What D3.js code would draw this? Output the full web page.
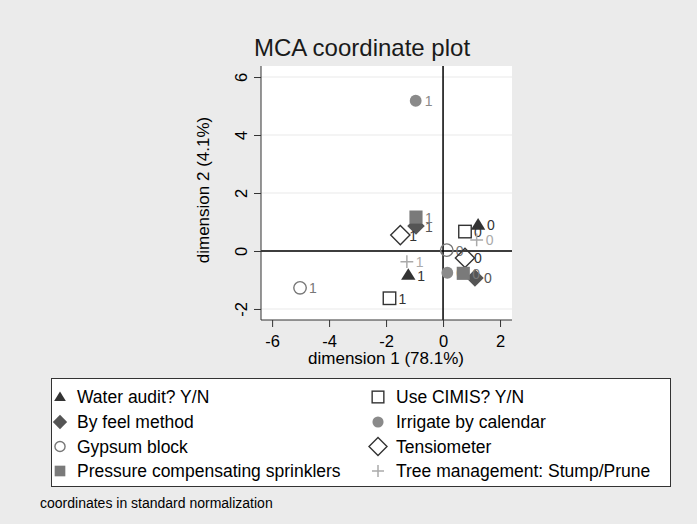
<!DOCTYPE html>
<html><head><meta charset="utf-8">
<script src="https://cdn.jsdelivr.net/npm/d3@7"></script>
<style>body{margin:0;background:#ebebeb;} svg{display:block;font-family:"Liberation Sans",Arial,sans-serif;}</style>
</head><body>
<svg id="c" width="697" height="524"></svg>
<script>
const xTicks = [-6, -4, -2, 0, 2];
const yTicks = [-2, 0, 2, 4, 6];
const seriesNames = ["Water audit? Y/N","Use CIMIS? Y/N","By feel method","Irrigate by calendar","Gypsum block","Tensiometer","Pressure compensating sprinklers","Tree management: Stump/Prune"];
const seriesShapes = ["triangle","squareHollow","diamond","circle","circleHollow","diamondHollow","square","plus"];
const seriesColors = ["#333333","#333333","#555555","#8a8a8a","#777777","#333333","#7a7a7a","#aaaaaa"];
// category coordinates: [label, dim1, dim2]
const waterAudit = [["0",1.23,0.90],["1",-1.22,-0.83]];
const useCimis = [["0",0.77,0.67],["1",-1.88,-1.63]];
const byFeel = [["0",1.12,-0.93],["1",-0.95,0.86]];
const irrigateCalendar = [["0",0.15,-0.75],["1",-0.96,5.18]];
const gypsum = [["0",0.13,0.03],["1",-5.02,-1.27]];
const tensiometer = [["0",0.77,-0.24],["1",-1.50,0.55]];
const pressureComp = [["0",0.71,-0.77],["1",-0.95,1.17]];
const treeMgmt = [["0",1.18,0.38],["1",-1.27,-0.37]];
const allSeries = [waterAudit,useCimis,byFeel,irrigateCalendar,gypsum,tensiometer,pressureComp,treeMgmt];

const svg = d3.select("#c");
const L=261,R=512,T=66,B=320;
const x = d3.scaleLinear().domain([-6.39,2.42]).range([L,R]);
const y = d3.scaleLinear().domain([-2.38,6.38]).range([B,T]);
const FONT = "Liberation Sans, Arial, sans-serif";

svg.append("rect").attr("width",697).attr("height",524).attr("fill","#ebebeb");
svg.append("rect").attr("x",L).attr("y",T).attr("width",R-L).attr("height",B-T).attr("fill","#ffffff");
// gridlines
svg.append("g").selectAll("line").data(yTicks).join("line")
 .attr("x1",L).attr("x2",R).attr("y1",d=>y(d)).attr("y2",d=>y(d))
 .attr("stroke","#eaeaea").attr("stroke-width",1.2);
// reference lines
svg.append("line").attr("x1",x(0)).attr("x2",x(0)).attr("y1",T).attr("y2",B).attr("stroke","#000").attr("stroke-width",1.5);
svg.append("line").attr("x1",L).attr("x2",R).attr("y1",y(0)).attr("y2",y(0)).attr("stroke","#000").attr("stroke-width",1.5);

// axes
const xa = svg.append("g").attr("transform",`translate(0,${B})`)
 .call(d3.axisBottom(x).tickValues(xTicks).tickSize(7).tickPadding(4).tickFormat(d=>d<0?"-"+Math.abs(d):d));
xa.select(".domain").attr("stroke","#333").attr("d",`M${L},0H${R}`);
xa.selectAll(".tick line").attr("stroke","#333");
xa.selectAll("text").attr("font-size",16.5).attr("fill","#000").attr("font-family",FONT).attr("dy",0).attr("y",27);
const ya = svg.append("g").attr("transform",`translate(${L},0)`)
 .call(d3.axisLeft(y).tickValues(yTicks).tickSize(7).tickPadding(3).tickFormat(d=>d<0?"-"+Math.abs(d):d));
ya.select(".domain").attr("stroke","#333").attr("d",`M0,${T}V${B}`);
ya.selectAll(".tick line").attr("stroke","#333");
ya.selectAll("text").attr("font-size",16.5).attr("fill","#000").attr("font-family",FONT)
 .attr("text-anchor","middle").attr("dy",0).attr("x",0).attr("y",0)
 .attr("transform","translate(-14,0) rotate(-90) translate(0,0)");

// titles
svg.append("text").attr("x",362).attr("y",56).attr("text-anchor","middle").attr("font-size",24).attr("fill","#1a1a1a").text("MCA coordinate plot");
svg.append("text").attr("x",386).attr("y",364).attr("text-anchor","middle").attr("font-size",17).attr("fill","#000").text("dimension 1 (78.1%)");
svg.append("text").attr("transform","translate(209,190) rotate(-90)").attr("text-anchor","middle").attr("font-size",17).attr("fill","#000").text("dimension 2 (4.1%)");

function drawMarker(g, shape, color, cx, cy, s){
  const a = s;
  if(shape==="triangle"){
    g.append("path").attr("d",`M${cx},${cy-a*0.85}L${cx+a*0.9},${cy+a*0.6}L${cx-a*0.9},${cy+a*0.6}Z`).attr("fill",color);
  } else if(shape==="square"){
    g.append("rect").attr("x",cx-a*0.82).attr("y",cy-a*0.82).attr("width",a*1.64).attr("height",a*1.64).attr("fill",color);
  } else if(shape==="squareHollow"){
    g.append("rect").attr("x",cx-a*0.78).attr("y",cy-a*0.78).attr("width",a*1.56).attr("height",a*1.56).attr("fill","none").attr("stroke",color).attr("stroke-width",1.4);
  } else if(shape==="diamond"){
    g.append("path").attr("d",`M${cx},${cy-a*1.1}L${cx+a*1.1},${cy}L${cx},${cy+a*1.1}L${cx-a*1.1},${cy}Z`).attr("fill",color);
  } else if(shape==="diamondHollow"){
    g.append("path").attr("d",`M${cx},${cy-a*1.2}L${cx+a*1.2},${cy}L${cx},${cy+a*1.2}L${cx-a*1.2},${cy}Z`).attr("fill","none").attr("stroke",color).attr("stroke-width",1.4);
  } else if(shape==="circle"){
    g.append("circle").attr("cx",cx).attr("cy",cy).attr("r",a*0.74).attr("fill",color);
  } else if(shape==="circleHollow"){
    g.append("circle").attr("cx",cx).attr("cy",cy).attr("r",a*0.78).attr("fill","none").attr("stroke",color).attr("stroke-width",1.4);
  } else if(shape==="plus"){
    g.append("path").attr("d",`M${cx-a*0.8},${cy}H${cx+a*0.8}M${cx},${cy-a*0.8}V${cy+a*0.8}`).attr("stroke",color).attr("stroke-width",1.5).attr("fill","none");
  }
}

const pts = svg.append("g");
allSeries.forEach((ser,i)=>{
  ser.forEach(d=>{
    const cx=x(d[1]), cy=y(d[2]);
    drawMarker(pts, seriesShapes[i], seriesColors[i], cx, cy, 8);
    pts.append("text").attr("x",cx+9).attr("y",cy+5.5).attr("font-size",14).attr("fill",seriesColors[i]).text(d[0]);
  });
});

// legend
svg.append("rect").attr("x",51.5).attr("y",378.5).attr("width",619).attr("height",108).attr("fill","#fff").attr("stroke","#333").attr("stroke-width",1);
const lg = svg.append("g");
const rowsY=[397,422,446.5,471];
seriesNames.forEach((n,i)=>{
  const col=i%2, row=Math.floor(i/2);
  const mx = col===0?60:378, ty=rowsY[row];
  drawMarker(lg, seriesShapes[i], seriesColors[i], mx, ty, col===0?6.5:7.5);
  lg.append("text").attr("x",col===0?77:396).attr("y",ty+6).attr("font-size",17.5).attr("fill","#000").text(n);
});
svg.append("text").attr("x",40).attr("y",508).attr("font-size",14).attr("fill","#000").text("coordinates in standard normalization");
</script>
</body></html>
